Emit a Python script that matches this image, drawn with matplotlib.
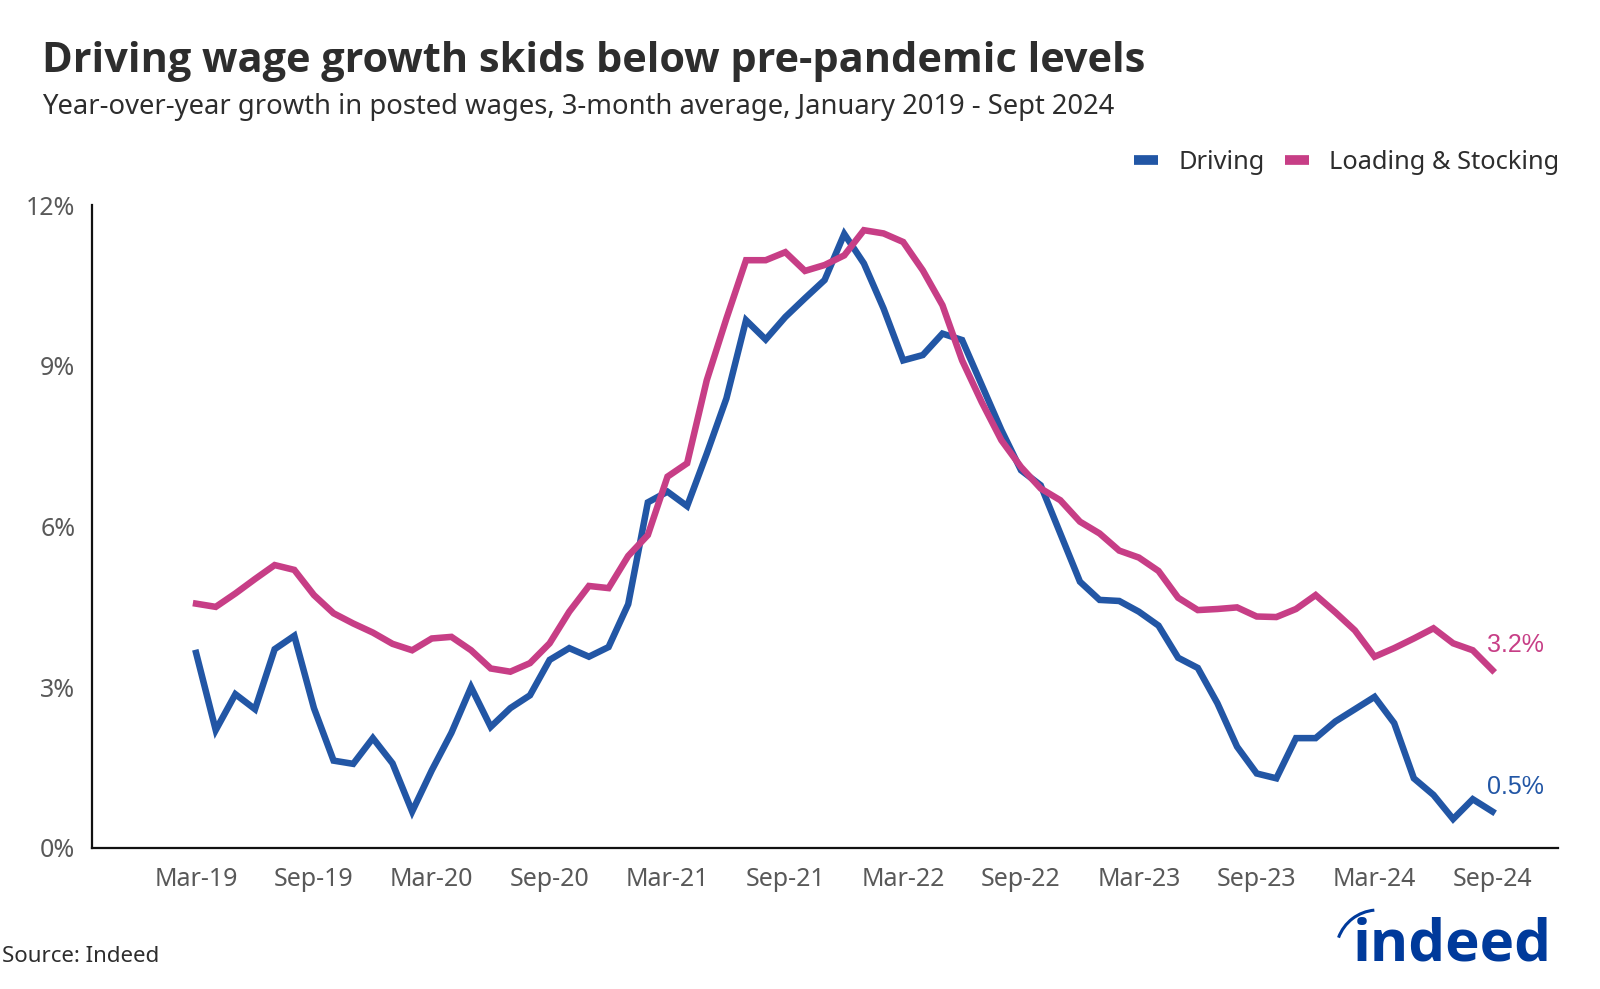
import matplotlib
matplotlib.use("Agg")
import matplotlib.pyplot as plt
from matplotlib.lines import Line2D
from matplotlib.patches import Arc
from matplotlib.transforms import IdentityTransform
import pandas as pd

# monthly, Mar 2019 .. Sep 2024 (67 points)
months = pd.date_range("2019-03-01", "2024-09-01", freq="MS")

driving = [3.64, 2.20, 2.87, 2.59, 3.71, 3.96, 2.61, 1.63, 1.57, 2.05, 1.58, 0.68,
           1.45, 2.15, 3.00, 2.26, 2.61, 2.85, 3.51, 3.73, 3.57, 3.75, 4.55, 6.45,
           6.65, 6.38, 7.36, 8.39, 9.85, 9.49, 9.91, 10.26, 10.60, 11.46, 10.91, 10.07,
           9.10, 9.20, 9.60, 9.48, 8.64, 7.80, 7.05, 6.77, 5.87, 4.97, 4.63, 4.61,
           4.41, 4.15, 3.55, 3.36, 2.70, 1.89, 1.39, 1.30, 2.05, 2.05, 2.36, 2.59,
           2.82, 2.33, 1.30, 0.99, 0.54, 0.91, 0.68]

loading = [4.56, 4.50, 4.75, 5.02, 5.28, 5.19, 4.72, 4.38, 4.19, 4.02, 3.81, 3.69,
           3.91, 3.94, 3.69, 3.35, 3.29, 3.45, 3.82, 4.41, 4.89, 4.85, 5.45, 5.84,
           6.93, 7.18, 8.73, 9.88, 10.97, 10.97, 11.12, 10.77, 10.88, 11.06, 11.53, 11.47,
           11.31, 10.78, 10.13, 9.10, 8.32, 7.61, 7.11, 6.71, 6.49, 6.09, 5.87, 5.55,
           5.42, 5.17, 4.67, 4.44, 4.46, 4.49, 4.32, 4.31, 4.46, 4.72, 4.40, 4.06,
           3.57, 3.73, 3.91, 4.10, 3.82, 3.69, 3.32]

end_labels = ["0.5%", "3.2%"]
yticks = [0, 3, 6, 9, 12]
tick_every = 6  # months between x labels

BLUE = "#2256a5"
PINK = "#c73e86"
INDEED = "#003a9b"
TEXT = "#2d2d2d"
GRAY = "#595959"

fig = plt.figure(figsize=(16, 9.89), dpi=100)
ax = fig.add_axes([0.0575, 0.1426, 0.9165, 0.6501])

x = list(range(len(months)))
ax.plot(x, driving, color=BLUE, lw=4.7, solid_joinstyle="miter")
ax.plot(x, loading, color=PINK, lw=4.7, solid_joinstyle="miter")

ax.set_ylim(0, 12)
ax.set_xlim(-5.3, len(months) - 1 + 3.36)
ax.set_yticks(yticks)
ax.set_yticklabels([f"{v}%" for v in yticks])
xt = x[::tick_every]
ax.set_xticks(xt)
ax.set_xticklabels([months[i].strftime("%b-%y") for i in xt])
ax.tick_params(length=0, labelsize=18, labelcolor=GRAY, labelfontfamily="Noto Sans")
ax.tick_params(axis="y", pad=12)
ax.tick_params(axis="x", pad=14)

for s in ["top", "right"]:
    ax.spines[s].set_visible(False)
for s in ["left", "bottom"]:
    ax.spines[s].set_linewidth(1.6)
    ax.spines[s].set_color("#111111")

# end-of-line labels
for series, lab, col in [(driving, end_labels[0], BLUE), (loading, end_labels[1], PINK)]:
    ax.annotate(lab, (x[-1], series[-1]), xytext=(-4, 18), textcoords="offset points",
                ha="left", va="center", fontsize=18, color=col, family="Liberation Sans")

handles = [Line2D([], [], color=BLUE, lw=7, solid_capstyle="butt"),
           Line2D([], [], color=PINK, lw=7, solid_capstyle="butt")]
fig.legend(handles, ["Driving", "Loading & Stocking"], loc="center right",
           bbox_to_anchor=(0.989, 0.836), ncol=2, frameon=False,
           prop={"family": "Noto Sans", "size": 18.3}, labelcolor=TEXT,
           handlelength=0.95, handletextpad=0.8, columnspacing=0.8)

fig.text(0.026, 0.9277, "Driving wage growth skids below pre-pandemic levels",
         fontsize=29.9, fontweight="bold", color=TEXT, family="Open Sans", va="baseline")
fig.text(0.026, 0.8847, "Year-over-year growth in posted wages, 3-month average, "
         "January 2019 - Sept 2024", fontsize=19.7, color=TEXT, family="Noto Sans",
         va="baseline")
fig.text(0.001, 0.027, "Source: Indeed", fontsize=16, color=TEXT, family="Noto Sans",
         va="baseline")

# indeed logo
fig.text(0.8455, 0.029, "indeed", fontsize=42, fontweight="bold", color=INDEED,
         family="Open Sans", va="baseline")
fig.patches.append(Arc((1378, 37), 84, 84, theta1=95, theta2=160, lw=2.2,
                       color=INDEED, transform=IdentityTransform(), figure=fig))

fig.savefig("out.png", dpi=100)
